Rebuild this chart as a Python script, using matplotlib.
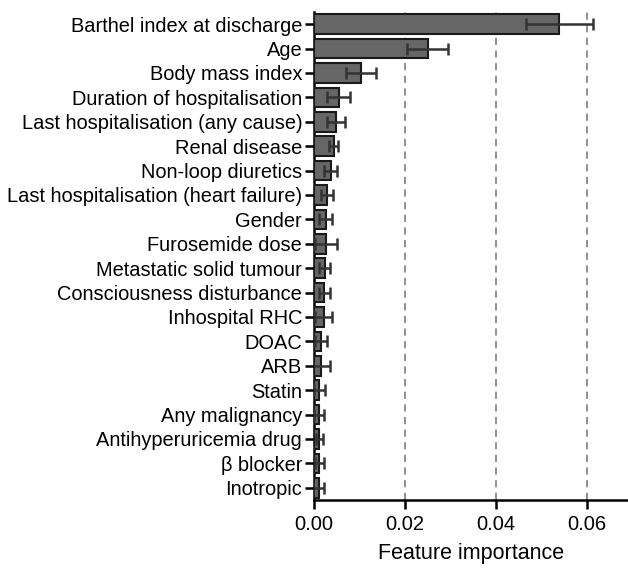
import numpy as np
import matplotlib
matplotlib.use("Agg")
import matplotlib.pyplot as plt

plt.rcParams['font.family'] = ['Liberation Sans', 'DejaVu Sans']

features = ["Barthel index at discharge", "Age", "Body mass index",
            "Duration of hospitalisation", "Last hospitalisation (any cause)",
            "Renal disease", "Non-loop diuretics",
            "Last hospitalisation (heart failure)", "Gender", "Furosemide dose",
            "Metastatic solid tumour", "Consciousness disturbance",
            "Inhospital RHC", "DOAC", "ARB", "Statin", "Any malignancy",
            "Antihyperuricemia drug", "\u03b2 blocker", "Inotropic"]
importance = [0.0539, 0.0250, 0.0103, 0.0054, 0.0048, 0.0043, 0.0037, 0.0029,
              0.0026, 0.0026, 0.0024, 0.0023, 0.0021, 0.0016, 0.0015, 0.0012,
              0.0012, 0.0012, 0.0012, 0.0010]
errors = [0.0074, 0.0045, 0.0033, 0.0025, 0.0020, 0.0010, 0.0014, 0.0013,
          0.0014, 0.0024, 0.0012, 0.0013, 0.0019, 0.0013, 0.0021, 0.0012,
          0.0011, 0.0008, 0.0010, 0.0012]
xticks = [0.00, 0.02, 0.04, 0.06]

fig = plt.figure(figsize=(6.28, 5.83), dpi=100)
ax = fig.add_axes([314/628, 1 - 500/583, 1 - 314/628, (500 - 12)/583])

y = np.arange(len(features))
ax.barh(y, importance, height=0.8, color="#666666", edgecolor="#1a1a1a",
        linewidth=1.5, xerr=errors,
        error_kw=dict(ecolor="#333333", elinewidth=1.8, capsize=4, capthick=1.8),
        zorder=3)

for t in xticks[1:]:
    ax.axvline(t, color="#888888", linestyle=(0, (4, 3)), linewidth=1.3, zorder=1)

ax.set_ylim(len(features) - 0.5, -0.5)
ax.set_xlim(0, 0.069)
ax.set_yticks(y)
ax.set_yticklabels(features, fontsize=14.4)
ax.set_xticks(xticks)
ax.set_xticklabels(["%.2f" % t for t in xticks], fontsize=14.5)
ax.set_xlabel("Feature importance", fontsize=15.5, labelpad=6)

ax.spines['top'].set_visible(False)
ax.spines['right'].set_visible(False)
ax.spines['left'].set_linewidth(1.8)
ax.spines['bottom'].set_linewidth(1.8)
ax.tick_params(axis='both', width=1.8, length=6.5)
ax.tick_params(axis='y', pad=2)
ax.tick_params(axis='x', pad=4.5)

fig.savefig("out.png", dpi=100)
